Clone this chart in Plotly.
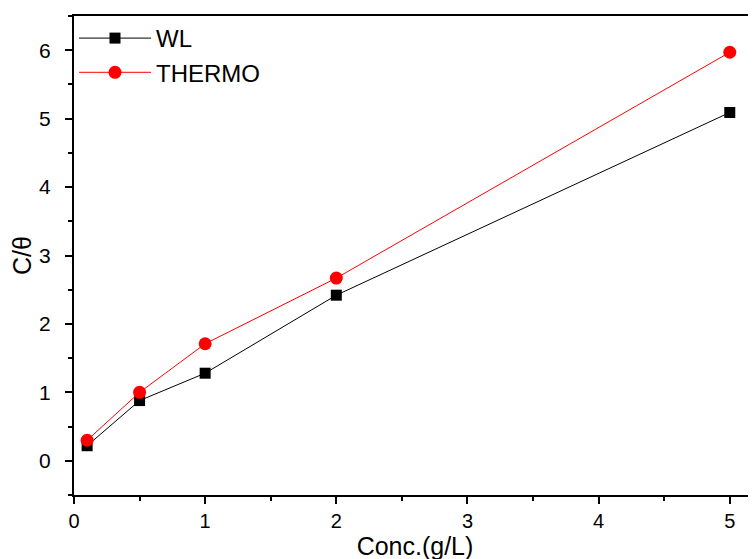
import plotly.graph_objects as go

conc = [0.1, 0.5, 1, 2, 5]
wl = [0.22, 0.88, 1.28, 2.42, 5.09]
thermo = [0.30, 1.00, 1.71, 2.67, 5.97]

fig = go.Figure()
fig.add_trace(go.Scatter(x=conc, y=wl, name="WL", mode="lines+markers",
                         line=dict(color="black", width=1),
                         marker=dict(symbol="square", size=11, color="black")))
fig.add_trace(go.Scatter(x=conc, y=thermo, name="THERMO", mode="lines+markers",
                         line=dict(color="red", width=1),
                         marker=dict(symbol="circle", size=13, color="red")))

font = "Liberation Sans, Arial, sans-serif"
fig.update_layout(
    width=756, height=559,
    margin=dict(l=66, r=8, t=8, b=72),
    plot_bgcolor="white", paper_bgcolor="white",
    font=dict(family=font, color="black", size=20),
    showlegend=True,
    legend=dict(x=0.0, y=1.0, xanchor="left", yanchor="top",
                font=dict(size=24), bgcolor="rgba(0,0,0,0)",
                itemwidth=72, tracegroupgap=0),
    xaxis=dict(range=[0, 5.2], tickvals=[0, 1, 2, 3, 4, 5], showgrid=False, zeroline=False,
               automargin=False,
               showline=True, linecolor="black", linewidth=2, mirror=True,
               ticks="outside", ticklen=7, tickwidth=2, tickcolor="black",
               minor=dict(ticks="outside", ticklen=4, tickwidth=2, dtick=0.5, tickcolor="black", showgrid=False),
               title=dict(text="Conc.(g/L)", font=dict(size=25), standoff=0),
               tickfont=dict(size=20)),
    yaxis=dict(range=[-0.5, 6.5], tickvals=[0, 1, 2, 3, 4, 5, 6], showgrid=False, zeroline=False,
               automargin=False,
               showline=True, linecolor="black", linewidth=2,
               ticks="outside", ticklen=7, tickwidth=2, tickcolor="black",
               ticklabelstandoff=10,
               minor=dict(ticks="outside", ticklen=4, tickwidth=2, dtick=0.5, tickcolor="black", showgrid=False),
               title=dict(text="C/θ", font=dict(size=25), standoff=6),
               tickfont=dict(size=21)),
)
fig.write_html("out.html")
